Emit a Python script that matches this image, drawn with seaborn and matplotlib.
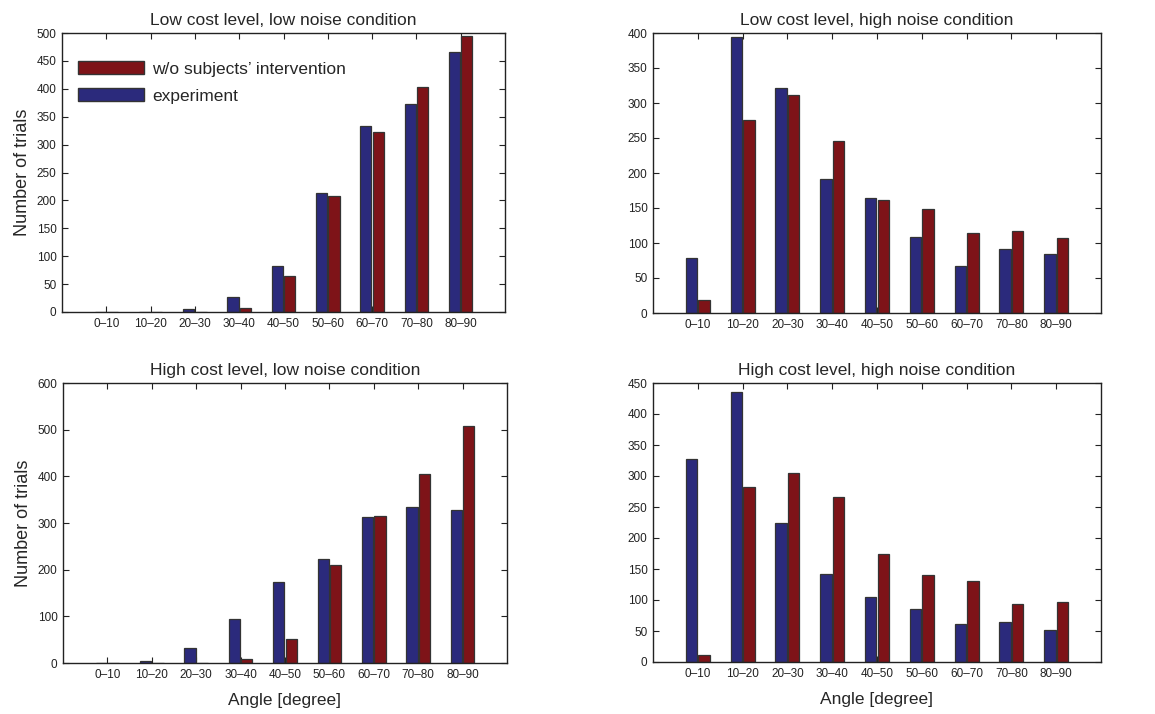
import matplotlib
matplotlib.use('Agg')
import matplotlib.pyplot as plt
import matplotlib.patches as mpatches
import pandas as pd
import seaborn as sns

sns.set_theme(style='white')
plt.rcParams['font.family'] = ['Liberation Sans', 'DejaVu Sans']
plt.rcParams['xtick.direction'] = 'in'
plt.rcParams['ytick.direction'] = 'in'

angles = ['0\u201310', '10\u201320', '20\u201330', '30\u201340', '40\u201350',
          '50\u201360', '60\u201370', '70\u201380', '80\u201390']

titles = ['Low cost level, low noise condition',
          'Low cost level, high noise condition',
          'High cost level, low noise condition',
          'High cost level, high noise condition']

exp_low_low = [0, 0, 5, 26, 82, 214, 334, 373, 466]
wo_low_low = [0, 0, 0, 7, 65, 207, 323, 403, 495]

exp_low_high = [78, 394, 322, 191, 164, 108, 67, 91, 85]
wo_low_high = [18, 276, 312, 246, 161, 149, 114, 117, 107]

exp_high_low = [0, 4, 32, 94, 173, 223, 312, 334, 327]
wo_high_low = [0, 0, 0, 8, 52, 210, 316, 406, 507]

exp_high_high = [328, 436, 224, 142, 105, 86, 62, 65, 52]
wo_high_high = [12, 282, 305, 266, 174, 140, 131, 93, 97]

y_max = [500, 400, 600, 450]
y_step = [50, 50, 100, 50]

series = [(exp_low_low, wo_low_low), (exp_low_high, wo_low_high),
          (exp_high_low, wo_high_low), (exp_high_high, wo_high_high)]

blue = '#2b2a7c'
red = '#7e1318'
exp_name = 'experiment'
wo_name = 'w/o subjects\u2019 intervention'

fig = plt.figure(figsize=(11.55, 7.14), dpi=100)
W, H = 1155, 714
boxes = [(62, 33, 505, 312), (653, 33, 1101, 313),
         (63, 383, 507, 663), (653, 383, 1101, 662)]

for i, (exp, wo) in enumerate(series):
    l, t, r, b = boxes[i]
    ax = fig.add_axes([l / W, 1 - b / H, (r - l) / W, (b - t) / H])
    df = pd.DataFrame({
        'Angle': angles * 2,
        'Count': exp + wo,
        'Source': [exp_name] * 9 + [wo_name] * 9,
    })
    sns.barplot(data=df, x='Angle', y='Count', hue='Source',
                hue_order=[exp_name, wo_name], palette=[blue, red],
                saturation=1, width=0.56, gap=0.1, edgecolor='#333333',
                linewidth=0.9, legend=False, ax=ax)
    ax.set_xlim(-1, 9)
    ax.set_ylim(0, y_max[i])
    ax.set_yticks(range(0, y_max[i] + 1, y_step[i]))
    ax.tick_params(axis='both', labelsize=8.5, length=4, width=0.8,
                   top=True, right=True, bottom=True, left=True, pad=4,
                   colors='#222222')
    for s in ax.spines.values():
        s.set_color('#222222')
        s.set_linewidth(1.0)
    ax.set_title(titles[i], fontsize=12.5, pad=6)
    ax.set_xlabel('Angle [degree]' if i >= 2 else '', fontsize=12.5, labelpad=9)
    ax.set_ylabel('Number of trials' if i % 2 == 0 else '', fontsize=13)

    if i == 0:
        handles = [mpatches.Patch(facecolor=red, edgecolor='#333333', label=wo_name),
                   mpatches.Patch(facecolor=blue, edgecolor='#333333', label=exp_name)]
        ax.legend(handles=handles, loc='upper left', bbox_to_anchor=(0.0, 0.955),
                  frameon=False, fontsize=12.5, handlelength=3.85, handleheight=0.8,
                  handletextpad=0.45, labelspacing=0.65)

fig.savefig('out.png', dpi=100)
